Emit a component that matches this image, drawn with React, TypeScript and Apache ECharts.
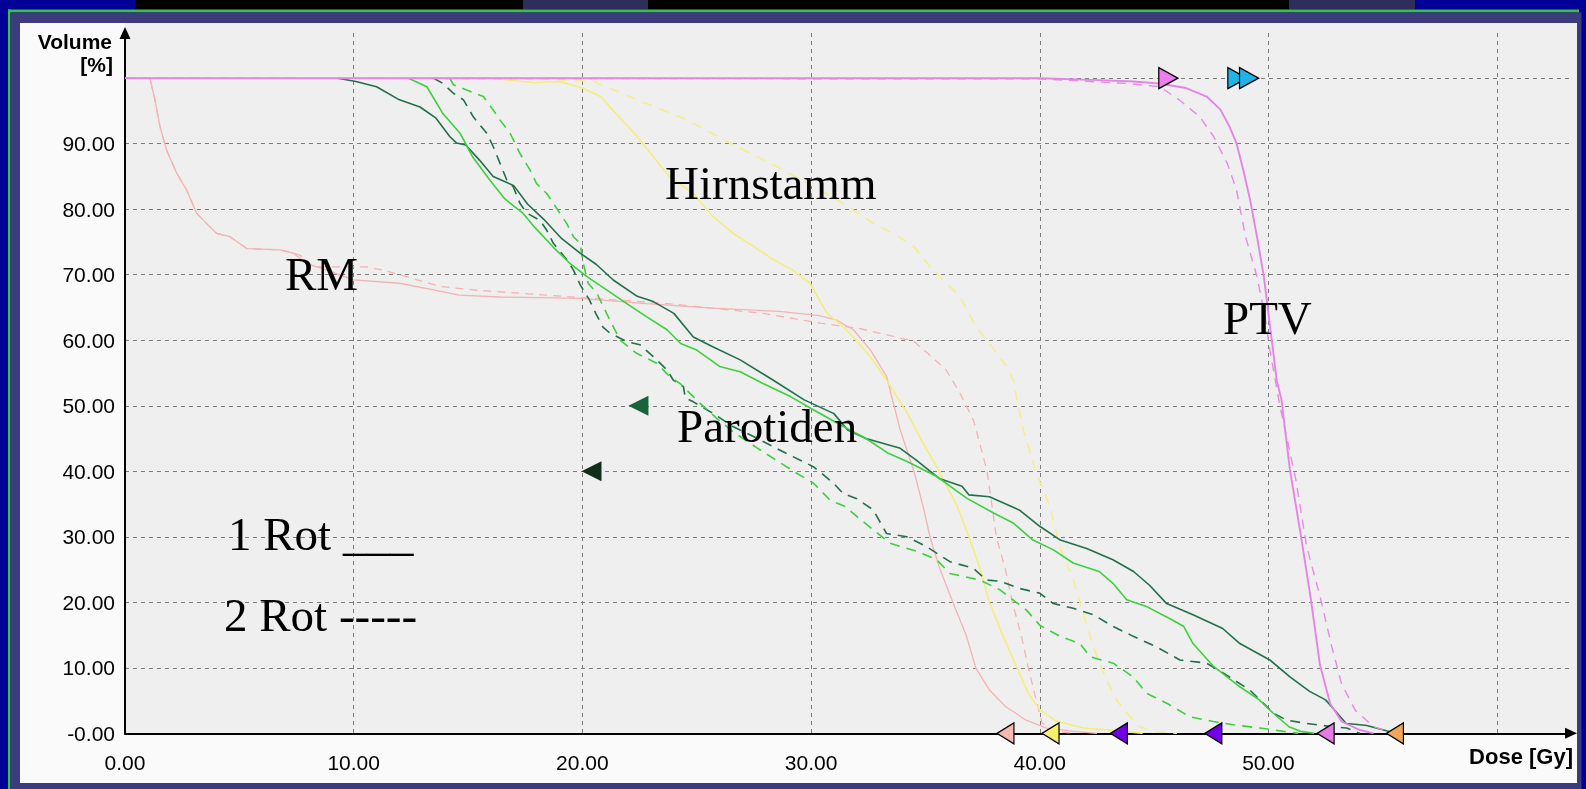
import React, { useEffect, useRef } from "react";
import * as echarts from "echarts";

// ---------- DATA: [dose (Gy), volume (%)] ----------
const ptvRot1 = [[0,100],[40,100],[42.6,99.7],[44.1,99.5],[45.2,99.2],[46.4,98.5],[47.3,97.2],[47.9,95.2],[48.3,92.6],[48.6,90.1],[48.9,86],[49.2,81.4],[49.5,75.8],[49.8,69.7],[50,64.1],[50.2,58.5],[50.36,53.9],[50.57,50.9],[50.94,40.2],[51.38,31],[51.85,20.6],[52.25,10.5],[52.7,4.5],[53.2,1.8],[54,0.5],[54.6,0]];
const ptvRot2 = [[0,100],[40,99.9],[43.8,99.2],[45.25,98.7],[46.1,96.7],[47,94.1],[47.6,91.1],[48.2,87],[48.6,83],[49,75.8],[49.5,69.7],[49.85,63.6],[50.06,58.5],[50.3,53.9],[50.5,50],[51.2,38.7],[51.67,28.5],[52.25,21],[52.75,13.5],[53.2,7.5],[53.8,3.5],[54.6,1],[55.3,0.25],[56,0]];
const rmRot1 = [[0,100],[1.09,100],[1.31,96.7],[1.53,92.6],[1.82,89],[2.26,85.5],[2.7,82.9],[3.13,79.4],[3.57,77.8],[4.01,76.3],[4.59,75.8],[5.32,74],[6.78,73.8],[7.36,73.3],[7.94,71.7],[8.82,70.7],[10,69.2],[12,68.7],[13.5,67.7],[14.6,66.9],[16.4,66.6],[19.9,66.4],[22.8,65.6],[25.7,64.9],[28.6,64.4],[30.3,63.8],[31.1,63.1],[31.85,61.6],[32.6,58.5],[33.3,54.5],[33.9,46.3],[34.5,40],[34.9,34.6],[35.2,30],[35.6,25.4],[36.2,20],[36.8,14.8],[37.2,10],[37.8,6.6],[38.5,4.1],[39.4,2],[40.3,0.8],[41.5,0.3],[42.5,0]];
const rmRot2 = [[0,100],[1.09,100],[1.31,96.7],[1.53,92.6],[1.82,89],[2.26,85.5],[2.7,82.9],[3.13,79.4],[3.57,77.8],[4.01,76.3],[4.59,75.8],[5.32,74],[6.78,73.8],[7.65,73],[8.24,71.2],[10.57,71.2],[11.3,70.7],[12.3,69.7],[13.8,68.2],[15.5,67.6],[18.4,66.9],[23.7,65.6],[27.9,64.1],[30.4,62.6],[32.1,61.8],[33.6,60.6],[34.5,59.8],[35.1,58],[35.9,55.5],[36.5,52],[37.1,47.8],[37.7,40],[38.1,30],[38.5,25],[38.8,20],[39.2,14.8],[39.5,10],[39.8,5.7],[40.1,1.6],[40.6,0.3],[41.5,0]];
const hirnstammRot1 = [[0,100],[16,100],[17.9,99.3],[19,99.5],[20,98.5],[20.8,97.2],[21.6,94.1],[22.4,91.1],[23.1,88],[23.8,85],[24.85,82.4],[25.7,78.9],[26.6,76.3],[27.5,74.3],[28.35,72.3],[29.2,70.7],[29.95,68.7],[30.7,64.1],[31.4,62.1],[32.1,59.5],[32.7,57],[33.3,53.9],[34.2,48.9],[34.9,44.3],[35.6,40],[36.4,34.6],[36.9,30],[37.4,25],[37.8,20],[38.4,14.8],[39,10],[39.5,6.1],[40,3.6],[40.7,1.9],[41.9,0.8],[43.7,0.3],[44.5,0]];
const hirnstammRot2 = [[0,100],[17,100],[18.8,99.8],[20.5,99.5],[22.4,96.7],[24.6,93.6],[26.45,90.1],[28.5,86.5],[30.1,83.5],[31.4,80.9],[32.7,77.9],[33.7,76.1],[34.5,74.3],[35.2,71.2],[36.5,66.7],[37.2,62.1],[37.8,59.5],[38.55,56],[38.84,53.9],[39.28,46.3],[39.86,39.7],[40.44,34.6],[40.88,28.5],[41.46,23.5],[41.9,18.3],[42.34,13.2],[42.92,8.1],[43.36,5.1],[43.8,3.1],[44.38,1],[45,0.3],[46,0]];
const parotisARot1 = [[9.3,100],[10.1,99.5],[11,98.7],[12,96.7],[12.9,95.6],[13.6,93.9],[14.2,91.1],[14.5,90.1],[14.9,89.8],[15.5,87.5],[16.1,85],[17,83.6],[17.6,80.8],[18.3,78.5],[19.1,75.5],[19.9,73.3],[20.6,71.6],[21.35,69.2],[22.4,66.7],[23.1,65.9],[24,64.1],[24.85,60.5],[25.7,59],[26.9,57],[28.35,53.9],[29.7,50.9],[31,48.8],[31.6,46.3],[32.4,45],[33.9,43.5],[34.6,41.7],[35.6,38.9],[36.6,37.7],[36.9,36.4],[37.8,36.1],[39.1,34.1],[40,31.6],[40.9,29.5],[42.05,28.2],[43.2,26.5],[44.1,24.7],[44.8,22.6],[45.55,19.8],[46.7,18.1],[48,16],[48.75,13.7],[50.06,11.2],[50.94,8.6],[51.8,6.4],[52.5,5.1],[53,3.1],[53.4,1.5],[54,1.3],[54.3,1.2],[55.2,0.35],[55.6,0]];
const parotisBRot1 = [[12.4,100],[13.2,98.7],[13.9,94.6],[14.65,91.6],[15.2,88],[15.9,84.7],[16.6,81.6],[17.4,79.4],[17.9,77.3],[18.7,74.3],[19.4,71.9],[20.2,69.7],[21.06,67.7],[21.94,65.6],[22.8,63.6],[23.7,61.6],[24.3,59.5],[25,58.5],[26,56],[26.9,55.2],[27.9,53.4],[29.1,51.4],[30.1,49.4],[31.27,47.1],[32.4,45],[33.4,42.7],[34.2,41.5],[35.5,39.2],[36.8,35.9],[38,33.6],[38.84,32.1],[39.7,29.5],[40.6,28],[41.46,26],[42.6,24.7],[43.2,22.9],[43.8,20.4],[44.7,19.3],[45.8,17.3],[46.3,16.3],[46.7,13.7],[47.6,10.2],[48.75,7.1],[49.6,5.1],[50.2,3.1],[50.9,1],[51.4,0.3],[52,0]];
const parotisARot2 = [[13.5,100],[13.9,99.2],[14.36,97.7],[14.8,96.7],[15.23,94.1],[15.82,91.6],[16.11,89.5],[16.4,87],[16.69,84.5],[16.98,83.4],[17.27,80.9],[17.57,79.4],[18.15,78.3],[18.44,76.8],[18.73,74.8],[19.32,72.3],[19.61,70.7],[19.9,68.5],[20.3,66.2],[20.6,64],[20.9,62],[21.2,61.1],[21.94,59.8],[22.52,59.3],[23.1,57.5],[23.69,55.5],[23.98,53.9],[24.42,52.9],[24.5,51.2],[24.85,50.6],[25.73,48.8],[26.6,46.8],[27.48,45.3],[28.93,42.7],[30.1,40.7],[30.98,38.2],[31.4,36.6],[32,35.8],[32.72,34.1],[33.3,30.5],[34.18,30],[35.05,28.5],[35.49,27.5],[36.07,26.2],[37.09,25.2],[37.67,23.4],[38.26,23.2],[39.13,22.1],[40,21.4],[40.59,19.8],[41.46,19.1],[42.34,18.1],[43.21,16.3],[44.09,14.8],[45.1,13.2],[46.13,11.2],[47.3,10.7],[48.02,9.2],[49.19,6.6],[50.21,3.1],[50.79,2],[51.67,1.5],[52.83,1],[53.42,0.8],[54,0]];
const parotisBRot2 = [[14.2,100],[14.36,99],[14.94,98.2],[15.67,97.2],[16.11,95.1],[16.4,93.6],[16.84,91.6],[17.27,88.5],[17.71,86],[18,83.9],[18.44,82.4],[18.73,80.9],[19.32,77.8],[19.61,75.8],[19.9,74.8],[20.04,71.7],[20.25,68.7],[20.63,67.2],[21.06,64.1],[21.65,60],[22.37,58],[23.25,56.5],[23.83,54.4],[24.27,53.4],[25.14,50.4],[25.9,48],[26.6,46],[27.62,43.6],[29.37,39.7],[30.1,38.2],[30.83,35.6],[31.5,34.6],[32,33.1],[33.45,29],[34.61,27.8],[35.49,26.5],[36.07,24.4],[37.38,23.4],[38.26,21.9],[39.42,18.8],[40,16.5],[40.88,14.8],[41.76,13.7],[42.19,11.7],[43.21,10.7],[44.09,8.6],[44.67,6.1],[45.55,4.6],[46.57,2.5],[47.59,1.8],[48.46,1.3],[49.63,0.8],[50.65,0.3],[51.3,0]];

// constraint markers
const axisMarkerDoses = [38.5, 40.47, 43.46, 47.59, 52.5, 55.53];
const topMarkerDoses = [45.62, 48.64, 49.15];
const parotidMarkerPoints = [[22.45, 50], [20.4, 40]];

// labels
const annotations = ["RM", "Hirnstamm", "Parotiden", "PTV", "1 Rot ___", "2 Rot -----"];

// ---------- STYLE / LAYOUT ----------
const axisMarkerColors = ["#f5b9b1", "#f7f06a", "#7400e6", "#7400e6", "#e47be4", "#f2a65c"];
const topMarkerColors = ["#ee7eee", "#1fb4e6", "#1fb4e6"];
const parotidMarkerColors = ["#17633a", "#122e18"];
const annotationPos = [[285, 274], [665, 183], [677, 426], [1223, 318], [228, 534], [224, 615]];

const TRI_LEFT = "path://M0,10L14,0L14,20Z";
const TRI_RIGHT = "path://M14,10L0,0L0,20Z";

const lines = [
  { name: "RM 2 Rot", data: rmRot2, color: "#f3b3b3", width: 1.3, type: [8, 6] },
  { name: "RM 1 Rot", data: rmRot1, color: "#f3b3b3", width: 1.3, type: "solid" },
  { name: "Hirnstamm 2 Rot", data: hirnstammRot2, color: "#f4ef86", width: 1.6, type: [10, 8] },
  { name: "Hirnstamm 1 Rot", data: hirnstammRot1, color: "#f3ee7c", width: 1.6, type: "solid" },
  { name: "Parotis A 2 Rot", data: parotisARot2, color: "#22704a", width: 1.6, type: [10, 7] },
  { name: "Parotis B 2 Rot", data: parotisBRot2, color: "#3dd03d", width: 1.6, type: [10, 7] },
  { name: "Parotis A 1 Rot", data: parotisARot1, color: "#22704a", width: 1.6, type: "solid" },
  { name: "Parotis B 1 Rot", data: parotisBRot1, color: "#3dd03d", width: 1.6, type: "solid" },
  { name: "PTV 2 Rot", data: ptvRot2, color: "#e68ae6", width: 1.4, type: [9, 7] },
  { name: "PTV 1 Rot", data: ptvRot1, color: "#e684e6", width: 1.9, type: "solid" },
];

function buildOption() {
  const series: any[] = lines.map((l) => ({
    type: "line",
    name: l.name,
    data: l.data,
    showSymbol: false,
    symbol: "none",
    silent: true,
    z: 2,
    lineStyle: { color: l.color, width: l.width, type: l.type },
  }));
  series.push({
    type: "scatter",
    name: "axis markers",
    clip: false,
    silent: true,
    z: 6,
    symbol: TRI_LEFT,
    symbolSize: [17, 21],
    data: axisMarkerDoses.map((d, i) => ({
      value: [d, 0],
      itemStyle: { color: axisMarkerColors[i], borderColor: "#000", borderWidth: 1.3, opacity: 1 },
    })),
  });
  series.push({
    type: "scatter",
    name: "top markers",
    clip: false,
    silent: true,
    z: 6,
    symbol: TRI_RIGHT,
    symbolSize: [19, 21],
    data: topMarkerDoses.map((d, i) => ({
      value: [d, 100],
      itemStyle: { color: topMarkerColors[i], borderColor: "#000", borderWidth: 1.3, opacity: 1 },
    })),
  });
  series.push({
    type: "scatter",
    name: "parotid markers",
    clip: false,
    silent: true,
    z: 6,
    symbol: TRI_LEFT,
    symbolSize: [20, 20],
    data: parotidMarkerPoints.map((p, i) => ({
      value: p,
      itemStyle: { color: parotidMarkerColors[i], opacity: 1 },
    })),
  });

  const rect = (x: number, y: number, w: number, h: number, fill: string) => ({
    type: "rect",
    z: -10,
    silent: true,
    shape: { x, y, width: w, height: h },
    style: { fill },
  });

  const graphic: any[] = [
    rect(0, 0, 1586, 789, "#000096"),
    rect(135, 0, 1280, 9.5, "#000000"),
    rect(523, 0, 125, 9.5, "#2e2e5c"),
    rect(1289, 0, 126, 9.5, "#2e2e5c"),
    rect(8, 9.5, 1571, 3, "#3fbf3f"),
    rect(8, 9.5, 2.5, 779.5, "#3fbf3f"),
    rect(10.5, 12.5, 1571, 776.5, "#3b3b7d"),
    rect(20, 23, 1557, 760, "#fafafa"),
    rect(125, 23, 1452, 710.3, "#efefef"),
  ];
  annotations.forEach((t, i) => {
    graphic.push({
      type: "text",
      z: 50,
      silent: true,
      x: annotationPos[i][0],
      y: annotationPos[i][1],
      style: {
        text: t,
        fill: "#000",
        fontFamily: "'Liberation Serif', 'Times New Roman', serif",
        fontSize: 47,
        align: "left",
        verticalAlign: "middle",
        textAlign: "left",
        textVerticalAlign: "middle",
      },
    });
  });
  const boldText = (text: string, x: number, y: number, size: number) => ({
    type: "text",
    z: 50,
    silent: true,
    x,
    y,
    style: {
      text,
      fill: "#000",
      fontFamily: "'Liberation Sans', Arial, sans-serif",
      fontWeight: "bold",
      fontSize: size,
      align: "right",
      verticalAlign: "middle",
      textAlign: "right",
      textVerticalAlign: "middle",
    },
  });
  graphic.push(boldText("Volume", 112, 41, 21));
  graphic.push(boldText("[%]", 113, 64, 21));
  graphic.push(boldText("Dose [Gy]", 1573, 756, 22));

  const labelFont = { fontFamily: "'Liberation Sans', Arial, sans-serif", fontSize: 21, color: "#000" };
  const splitStyle = { color: "#7c7c7c", width: 1, type: [4, 4] };
  const axisLine = {
    show: true,
    onZero: false,
    symbol: ["none", "triangle"],
    symbolSize: [11, 12],
    lineStyle: { color: "#000", width: 2 },
  };

  return {
    animation: false,
    backgroundColor: "transparent",
    grid: { left: 125, top: 33, right: 15, bottom: 55.7, show: false },
    xAxis: {
      type: "value",
      min: 0,
      max: 63.23,
      interval: 10,
      axisLine,
      axisTick: { show: false },
      axisLabel: {
        ...labelFont,
        margin: 19,
        showMaxLabel: false,
        formatter: (v: number) => (v === 60 ? "" : v.toFixed(2)),
      },
      splitLine: { show: true, showMaxLine: false, showMinLine: false, lineStyle: splitStyle },
    },
    yAxis: {
      type: "value",
      min: 0,
      max: 106.9,
      interval: 10,
      axisLine,
      axisTick: { show: false },
      axisLabel: {
        ...labelFont,
        margin: 10,
        showMaxLabel: false,
        formatter: (v: number) => (v === 0 ? "-0.00" : v === 100 ? "" : v.toFixed(2)),
      },
      splitLine: { show: true, showMaxLine: false, showMinLine: false, lineStyle: splitStyle },
    },
    graphic,
    series,
  };
}

export default function App() {
  const ref = useRef<HTMLDivElement>(null);
  useEffect(() => {
    if (!ref.current) return;
    const chart = echarts.init(ref.current, null, { renderer: "svg" });
    chart.setOption(buildOption() as any);
    return () => chart.dispose();
  }, []);
  return (
    <div
      ref={ref}
      style={{ position: "fixed", left: 0, top: 0, width: 1586, height: 789 }}
    />
  );
}
